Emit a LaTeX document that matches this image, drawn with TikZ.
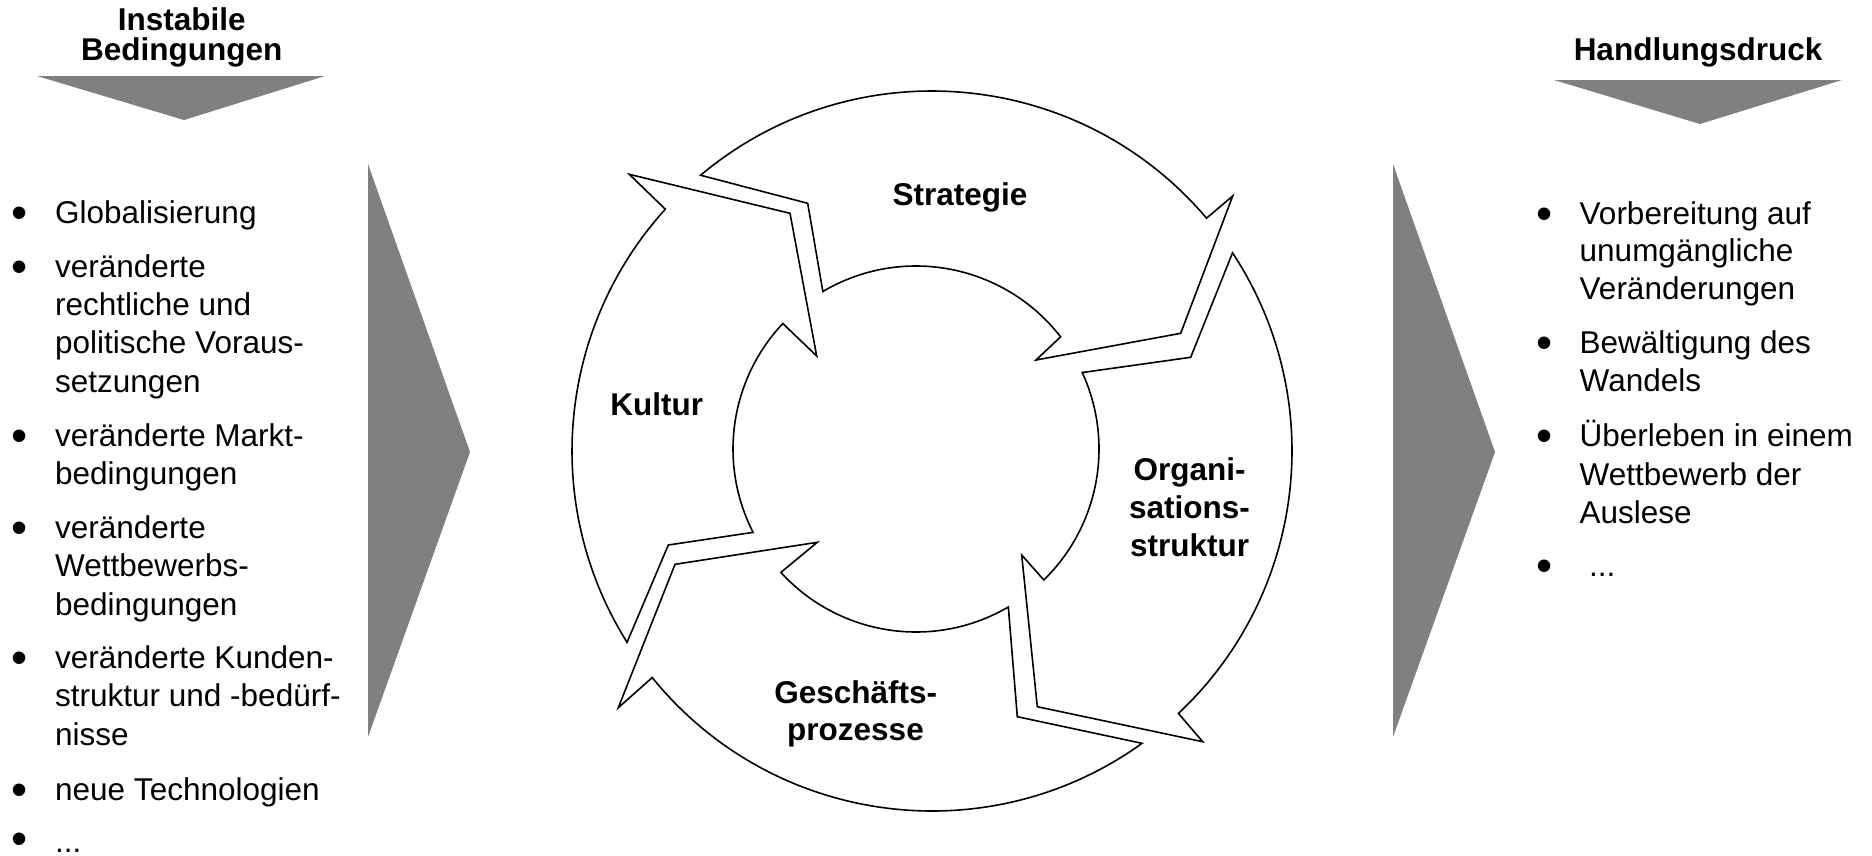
\documentclass[tikz,border=0pt]{standalone}
\usepackage{fontspec}
\setmainfont{Liberation Sans}
\definecolor{grau}{RGB}{128,128,128}
\tikzset{
  pfeil/.style={draw=black, fill=white, line width=1.6pt, line join=miter},
  keil/.style={fill=grau, draw=none},
  marke/.style={font=\fontsize{31.5}{37.5}\selectfont\bfseries, inner sep=0pt, anchor=base},
  zeile/.style={font=\fontsize{31.5}{37.5}\selectfont, inner sep=0pt, anchor=base west},
  punkt/.style={font=\fontsize{46}{50}\selectfont, inner sep=0pt, anchor=base, yshift=-5pt}
}
\begin{document}
\begin{tikzpicture}[x=1pt, y=1pt]
  \useasboundingbox (0,0) rectangle (1872,-855);

  % centres of the ring
  \coordinate (CO) at (932,-451);
  \coordinate (CI) at (916,-449);

  % grey wedges
  \coordinate (LTL) at (37,-76);
  \coordinate (LTR) at (325,-76);
  \coordinate (LTS) at (184,-120);
  \coordinate (RTL) at (1554,-80);
  \coordinate (RTR) at (1842,-80);
  \coordinate (RTS) at (1700,-124);
  \coordinate (LBT) at (368,-164);
  \coordinate (LBS) at (470,-452);
  \coordinate (LBB) at (368,-737);
  \coordinate (RBT) at (1393,-164);
  \coordinate (RBS) at (1495,-452);
  \coordinate (RBB) at (1393,-737);

  \fill[keil] (LTL)--(LTR)--(LTS)--cycle;
  \fill[keil] (RTL)--(RTR)--(RTS)--cycle;
  \fill[keil] (LBT)--(LBS)--(LBB)--cycle;
  \fill[keil] (RBT)--(RBS)--(RBB)--cycle;

  \node[marke] (inst) at (181.7,-30.7) {Instabile};
  \node[marke] (bed)  at (181.7,-60)   {Bedingungen};
  \node[marke] (hand) at (1698,-60)    {Handlungsdruck};

  % ring of four arrows
  \draw[pfeil] ([shift={(CO)}]130:360) -- (807.7,-203.3)
    -- ([shift={(CI)}]120.6:183) arc[start angle=120.6, end angle=37.8, radius=183]
    -- (1036,-360) -- (1180.7,-333.3) -- (1232.7,-196)
    -- ([shift={(CO)}]40.3:360) arc[start angle=40.3, end angle=130, radius=360] -- cycle;
  \draw[pfeil] ([shift={(CO)}]33.4:360) -- (1190.7,-357.3)
    -- ([shift={(CI)}]24.7:183) arc[start angle=24.7, end angle=-45.7, radius=183]
    -- (1021.7,-555) -- (1037.3,-706.7) -- (1202.7,-741.7)
    -- ([shift={(CO)}]-46.8:360) arc[start angle=-46.8, end angle=33.4, radius=360] -- cycle;
  \draw[pfeil] ([shift={(CO)}]-54.3:360) -- (1017.3,-716.7)
    -- ([shift={(CI)}]-59.7:183) arc[start angle=-59.7, end angle=-137.6, radius=183]
    -- (817.3,-542.3) -- (675,-564.3) -- (618.3,-707.7)
    -- ([shift={(CO)}]-141:360) arc[start angle=-141, end angle=-54.3, radius=360] -- cycle;
  \draw[pfeil] ([shift={(CO)}]212.1:360) -- (668.3,-545)
    -- ([shift={(CI)}]207.1:183) arc[start angle=207.1, end angle=136.7, radius=183]
    -- (816.7,-356) -- (790,-213.3) -- (629.3,-174.3)
    -- ([shift={(CO)}]137.8:360) arc[start angle=137.8, end angle=212.1, radius=360] -- cycle;

  \node[marke] (strat) at (960,-205)     {Strategie};
  \node[marke] (kult)  at (656.7,-415)   {Kultur};
  \node[marke] (org1)  at (1189.5,-480)  {Organi-};
  \node[marke] (org2)  at (1189.5,-518.3){sations-};
  \node[marke] (org3)  at (1189.5,-556.7){struktur};
  \node[marke] (ges1)  at (855.8,-703.3) {Geschäfts-};
  \node[marke] (ges2)  at (855.5,-740)   {prozesse};

  % left list
  \foreach \y [count=\i] in {223.5,277.5,446,538,668.5,800,849}
    \node[punkt] (lp\i) at (20,-\y) {•};
  \foreach \y/\txt [count=\i] in {223.5/Globalisierung, 277.5/veränderte,
      315.5/rechtliche und, 353.5/politische Voraus-, 392/setzungen,
      446/veränderte Markt-, 484/bedingungen, 538/veränderte,
      576.5/Wettbewerbs-, 615/bedingungen, 668.5/veränderte Kunden-,
      706.5/struktur und -bedürf-, 745/nisse, 800/neue Technologien}
    \node[zeile] (lz\i) at (55,-\y) {\txt};
  \node[zeile] (lz15) at (55,-852) {...};

  % right list
  \foreach \y [count=\i] in {224,353.5,446.5,576}
    \node[punkt] (rp\i) at (1545,-\y) {•};
  \foreach \y/\txt [count=\i] in {224/Vorbereitung auf, 261.5/unumgängliche,
      299/Veränderungen, 353.5/Bewältigung des, 391.5/Wandels,
      446.5/Überleben in einem, 485/Wettbewerb der, 523/Auslese}
    \node[zeile] (rz\i) at (1579.5,-\y) {\txt};
  \node[zeile] (rz9) at (1589,-576) {...};
\end{tikzpicture}
\end{document}
